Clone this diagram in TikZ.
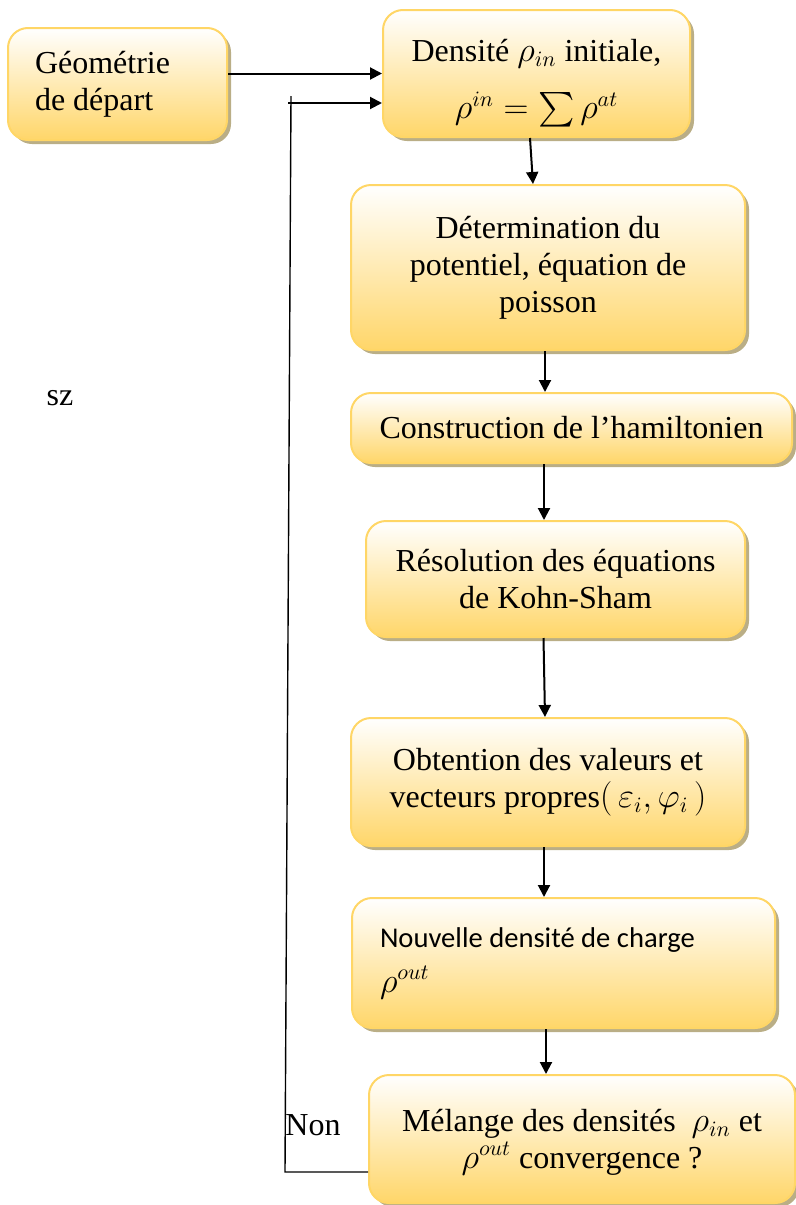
\documentclass[tikz,border=0pt]{standalone}
\usepackage{exscale}
\usepackage{fontspec}
\setmainfont{Liberation Serif}
\newfontfamily\calibri{Carlito}
\usetikzlibrary{arrows.meta,shadows}
\definecolor{bordjaune}{RGB}{255,214,102}
\definecolor{fondjaune}{RGB}{255,214,105}
\definecolor{ombre}{RGB}{186,174,134}
\tikzset{
  etape/.style={draw=bordjaune, line width=1pt, rounded corners=10pt, inner sep=0pt,
    top color=white, middle color=fondjaune!40!white, bottom color=fondjaune,
    drop shadow={shadow xshift=2pt, shadow yshift=-2pt, fill=ombre, opacity=1},
    font=\fontsize{16}{18.5}\selectfont},
  fleche/.style={line width=1pt, -{Triangle[length=6pt,width=6pt]}},
  texte/.style={font=\fontsize{16}{18.5}\selectfont, inner sep=0pt}
}
\begin{document}
\begin{tikzpicture}[x=0.5pt,y=-0.5pt]
            \useasboundingbox (0,0) rectangle (796,1205);
            \node[etape, minimum width=109.5pt, minimum height=56pt, text width=82.5pt, align=flush left] (geom) at (117.5,84) {Géométrie\\de départ};
            \node[etape, minimum width=153.5pt, minimum height=63.5pt, align=center] (dens) at (536.5,73.5) {\rule{0pt}{21pt}Densité $\rho_{in}$ initiale,\\[10pt]$\rho^{in} = \sum \rho^{at}$};
            \node[etape, minimum width=197pt, minimum height=82.5pt, align=center] (pot) at (548,267.5) {Détermination du\\potentiel, équation de\\poisson};
            \node[etape, minimum width=220.5pt, minimum height=35pt, align=center] (ham) at (571.5,428) {Construction de l’hamiltonien};
            \node[etape, minimum width=189.5pt, minimum height=58pt, align=center] (ks) at (555.5,579) {Résolution des équations\\de Kohn-Sham};
            \node[etape, minimum width=197pt, minimum height=64pt, align=center] (vp) at (548,782) {Obtention des valeurs et\\vecteurs propres$(\,\varepsilon_i, \varphi_i\,)$};
            \node[etape, minimum width=211.5pt, minimum height=65pt, text width=183.5pt, align=flush left, font=\calibri\fontsize{14.3}{22.5}\selectfont] (nouv) at (563.5,963) {Nouvelle densité de charge\\[4pt]\fontsize{16}{18.5}\selectfont$\rho^{out}$\\[6pt]};
            \node[etape, minimum width=213pt, minimum height=64pt, align=center] (mel) at (582,1139) {\rule{0pt}{14pt}Mélange des densités \ $\rho_{in}$ et\\$\rho^{out}$ convergence ?};
            \node[texte] (sz) at (60,398) {sz};
            \node[texte] (non) at (313,1125) {Non};
            \coordinate (nonbas) at (285,1172);
            \coordinate (nonhaut) at (291,103);
            \draw[fleche] (geom.east |- dens.west) -- (dens.west);
            \draw[line width=0.7pt] ([yshift=-16.5pt]mel.west) -- (nonbas) -- ([yshift=3.5pt]nonhaut);
            \draw[fleche] ([xshift=-1.5pt]nonhaut) -- (nonhaut -| dens.west);
            \draw[fleche] ([xshift=-3.25pt]dens.south) -- ([xshift=-7.5pt]pot.north);
            \draw[fleche] ([xshift=-1.5pt]pot.south) coordinate (t1) -- (t1 |- ham.north);
            \draw[fleche] ([xshift=-13.75pt]ham.south) coordinate (t2) -- (t2 |- ks.north);
            \draw[fleche] ([xshift=-6pt]ks.south) -- ([xshift=-1.5pt]vp.north);
            \draw[fleche] ([xshift=-2pt]vp.south) coordinate (t3) -- (t3 |- nouv.north);
            \draw[fleche] ([xshift=-8.75pt]nouv.south) coordinate (t4) -- (t4 |- mel.north);
        \end{tikzpicture}
\end{document}
